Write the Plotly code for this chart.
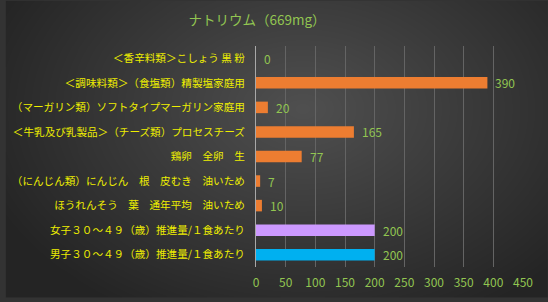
import base64, struct, zlib
import numpy as np
import plotly.graph_objects as go

categories = [
    "＜香辛料類＞こしょう 黒 粉",
    "＜調味料類＞（食塩類）精製塩家庭用",
    "（マーガリン類）ソフトタイプマーガリン家庭用",
    "＜牛乳及び乳製品＞（チーズ類）プロセスチーズ",
    "鶏卵　全卵　生",
    "（にんじん類）にんじん　根　皮むき　油いため",
    "ほうれんそう　葉　通年平均　油いため",
    "女子３０～４９（歳）推進量/１食あたり",
    "男子３０～４９（歳）推進量/１食あたり",
]
values = [0, 390, 20, 165, 77, 7, 10, 200, 200]
bar_colors = ["#ED7D31"] * 7 + ["#CC99FF", "#00B0F0"]
title_text = "ナトリウム（669mg）"
tick_vals = [0, 50, 100, 150, 200, 250, 300, 350, 400, 450]

# background radial gradient image (style only)
W, H = 548, 302
yy, xx = np.mgrid[0:H, 0:W]
d = np.sqrt(((xx - 300) / 330.0) ** 2 + ((yy - 110) / 230.0) ** 2)
v = np.clip(80 - 42 * d, 36, 80).astype(np.uint8)
raw = b"".join(b"\x00" + bytes(np.repeat(v[r], 3)) for r in range(H))
def chunk(t, data):
    c = struct.pack(">I", len(data)) + t + data
    return c + struct.pack(">I", zlib.crc32(t + data) & 0xffffffff)
png = b"\x89PNG\r\n\x1a\n" + chunk(b"IHDR", struct.pack(">IIBBBBB", W, H, 8, 2, 0, 0, 0)) \
    + chunk(b"IDAT", zlib.compress(raw, 9)) + chunk(b"IEND", b"")
bg_src = "data:image/png;base64," + base64.b64encode(png).decode()

font = "Noto Sans CJK JP"
green = "#92C551"
yellow = "#EEEE00"

fig = go.Figure(go.Bar(
    x=values, y=categories, orientation="h",
    marker=dict(color=bar_colors, line=dict(width=0)),
    hoverinfo="skip",
))

for c, val in zip(categories, values):
    fig.add_annotation(x=val, y=c, text=str(val), showarrow=False,
                       xanchor="left", xshift=6, font=dict(color=green, size=12, family=font))

fig.update_layout(
    width=548, height=302,
    margin=dict(l=253, r=25, t=46, b=31),
    paper_bgcolor="#333333", plot_bgcolor="rgba(0,0,0,0)",
    bargap=0.53, showlegend=False,
    title=dict(text=title_text, x=257 / 548, xanchor="center", y=1 - 20 / 302, yanchor="middle",
               font=dict(color=green, size=13.5, family=font)),
    images=[dict(source=bg_src, xref="paper", yref="paper", x=-253 / 270, y=1 + 46 / 225,
                 sizex=548 / 270, sizey=302 / 225, sizing="stretch", layer="below",
                 xanchor="left", yanchor="top")],
    xaxis=dict(range=[0, 450], tickvals=tick_vals, showgrid=True, gridcolor="#646464", gridwidth=1,
               zeroline=False, showline=False, ticks="", ticklabelstandoff=7,
               tickfont=dict(color=green, size=12, family=font), fixedrange=True),
    yaxis=dict(autorange="reversed", showgrid=False, zeroline=False, showline=True,
               linecolor="#A8A8A8", linewidth=1, ticks="", ticklabelstandoff=8,
               tickfont=dict(color=yellow, size=10.6, family=font), fixedrange=True),
)

fig.write_html("out.html")
